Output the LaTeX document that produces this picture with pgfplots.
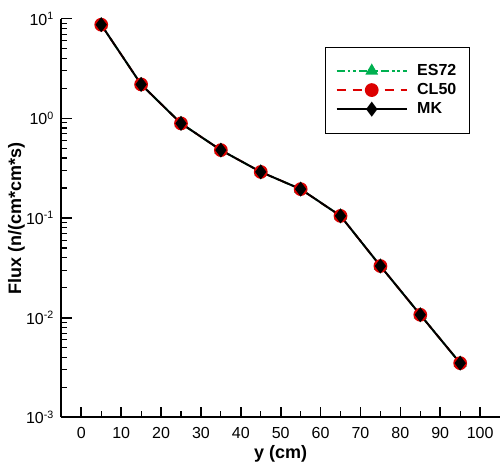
\documentclass[border=0pt]{standalone}
\usepackage{pgfplots}
\pgfplotsset{compat=1.18}
\usepackage{fontspec}
\setmainfont{Liberation Sans}

\definecolor{esgreen}{RGB}{0,176,80}
\definecolor{clred}{RGB}{220,0,0}

\begin{document}
\begin{tikzpicture}
\begin{axis}[
scale only axis,
width=329pt,
height=299pt,
ymode=log,
xmin=-5, xmax=105,
ymin=1e-3, ymax=1e1,
axis lines*=left,
axis line style={line width=1.4pt},
xtick={0,10,...,100},
minor x tick num=1,
ytick={1e-3,1e-2,1e-1,1e0,1e1},
yticklabels={10\textsuperscript{-3},10\textsuperscript{-2},10\textsuperscript{-1},10\textsuperscript{0},10\textsuperscript{1}},
tick align=inside,
major tick length=8pt,
minor tick length=4.5pt,
every major tick/.style={line width=1.2pt,black},
every minor tick/.style={line width=0.8pt,black},
tick label style={font=\fontsize{12}{14}\selectfont},
xticklabel style={yshift=-4pt},
yticklabel style={xshift=-2pt},
/pgf/number format/assume math mode=true,
xlabel={\textbf{y (cm)}},
ylabel={\textbf{Flux (n/(cm*cm*s)}},
label style={font=\fontsize{13.5}{15}\selectfont},
xlabel style={yshift=2pt},
ylabel style={yshift=-6pt},
legend style={at={(0.6,0.93)},anchor=north west,draw=black,line width=0.6pt,
  font=\fontsize{12}{15}\selectfont\bfseries,row sep=0.5pt,column sep=5pt,
  inner xsep=8pt,inner ysep=11pt},
legend cell align=left,
legend image code/.code={
  \draw[#1] (0cm,0cm) -- (1.85cm,0cm);
  \draw[#1,solid] plot coordinates {(0.925cm,0cm)};
},
]
\addplot[color=esgreen,line width=1.4pt,dash pattern=on 6pt off 2.2pt on 2pt off 2.2pt on 2pt off 2.2pt,
  mark=triangle*,mark size=4.2pt,mark options={solid,fill=esgreen}] coordinates {
(5,8.7) (15,2.19) (25,0.89) (35,0.48) (45,0.29) (55,0.195) (65,0.105) (75,0.033) (85,0.0107) (95,0.0035)
};
\addplot[color=clred,line width=1.3pt,dash pattern=on 7pt off 5pt,
  mark=*,mark size=4.5pt,mark options={solid,fill=clred}] coordinates {
(5,8.7) (15,2.19) (25,0.89) (35,0.48) (45,0.29) (55,0.195) (65,0.105) (75,0.033) (85,0.0107) (95,0.0035)
};
\addplot[color=black,line width=1.5pt,
  mark=diamond*,mark size=4.4pt,mark options={solid,fill=black}] coordinates {
(5,8.7) (15,2.19) (25,0.89) (35,0.48) (45,0.29) (55,0.195) (65,0.105) (75,0.033) (85,0.0107) (95,0.0035)
};
\legend{ES72,CL50,MK}
\end{axis}
% white margin on the left and top, as in the reference
\path ([xshift=-46pt,yshift=14pt]current axis.north west);
\end{tikzpicture}
\end{document}
